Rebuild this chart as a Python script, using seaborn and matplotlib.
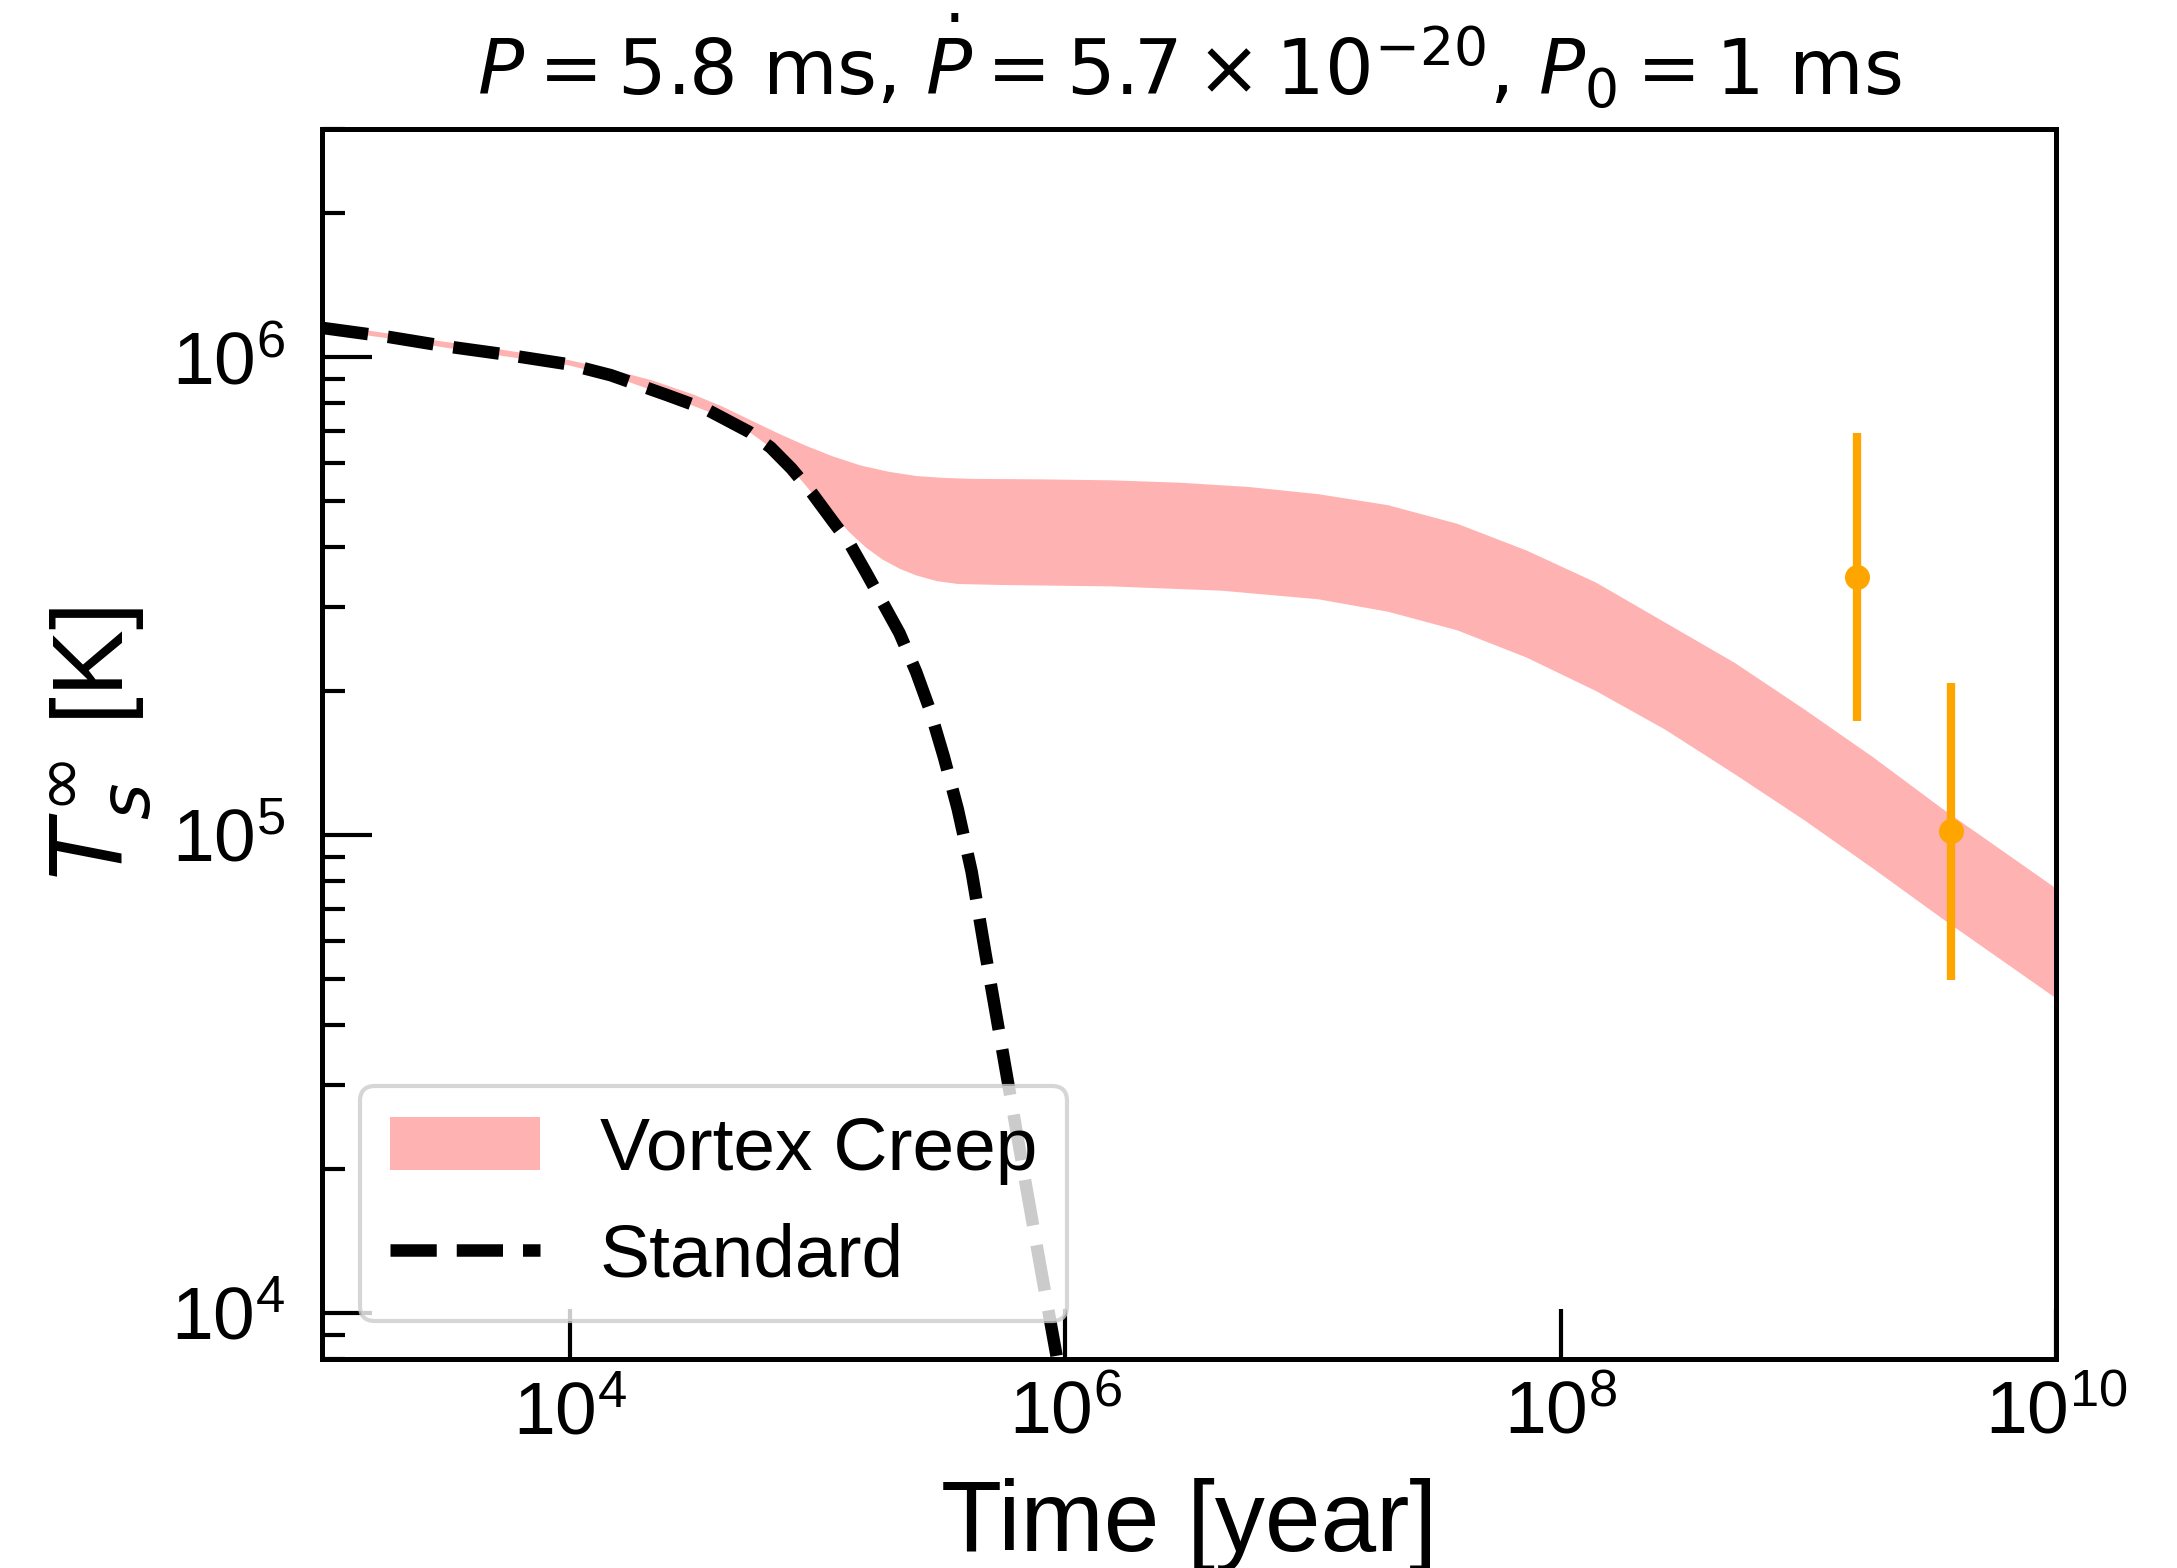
import matplotlib
matplotlib.use('Agg')
import matplotlib.pyplot as plt
import matplotlib.ticker as mticker
import numpy as np
import pandas as pd
import seaborn as sns

# values, given as log10(time / yr) and log10(T / K)

# standard cooling curve (dashed)
std_log_time = [3.000, 3.269, 3.493, 3.717, 3.992, 4.165, 4.389, 4.557, 4.725,
                4.810, 4.894, 4.978, 5.062, 5.129, 5.196, 5.263, 5.331, 5.398,
                5.454, 5.510, 5.566, 5.622, 5.678, 5.734, 5.790, 5.846, 5.902,
                5.969, 6.025]
std_log_temp = [6.061, 6.042, 6.023, 6.007, 5.985, 5.962, 5.921, 5.889, 5.843,
                5.811, 5.767, 5.715, 5.656, 5.610, 5.549, 5.486, 5.422, 5.341,
                5.261, 5.163, 5.054, 4.923, 4.751, 4.585, 4.419, 4.253, 4.090,
                3.898, 3.735]

# vortex creep band, upper edge
creep_log_time_upper = [3.000, 3.269, 3.493, 3.717, 3.992, 4.165, 4.333, 4.501,
                        4.613, 4.725, 4.838, 4.950, 5.062, 5.174, 5.286, 5.398,
                        5.510, 5.622, 5.902, 6.182, 6.462, 6.742, 7.022, 7.303,
                        7.583, 7.863, 8.143, 8.423, 8.703, 8.983, 9.263, 9.543,
                        9.824, 10.0]
creep_log_temp_upper = [6.070, 6.049, 6.032, 6.016, 5.994, 5.974, 5.951, 5.921,
                        5.897, 5.869, 5.841, 5.815, 5.792, 5.773, 5.760, 5.751,
                        5.747, 5.745, 5.744, 5.742, 5.737, 5.728, 5.713, 5.690,
                        5.651, 5.595, 5.528, 5.444, 5.360, 5.263, 5.162, 5.054,
                        4.952, 4.888]

# vortex creep band, lower edge
creep_log_time_lower = [3.000, 3.269, 3.493, 3.717, 3.992, 4.165, 4.389, 4.557,
                        4.725, 4.810, 4.894, 4.978, 5.062, 5.129, 5.196, 5.263,
                        5.331, 5.398, 5.482, 5.566, 5.734, 6.182, 6.630, 7.022,
                        7.303, 7.583, 7.863, 8.143, 8.423, 8.703, 8.983, 9.263,
                        9.543, 9.824, 10.0]
creep_log_temp_lower = [6.058, 6.039, 6.020, 6.003, 5.983, 5.961, 5.920, 5.886,
                        5.843, 5.811, 5.767, 5.715, 5.671, 5.633, 5.601, 5.576,
                        5.557, 5.543, 5.531, 5.525, 5.523, 5.520, 5.511, 5.493,
                        5.467, 5.428, 5.371, 5.301, 5.220, 5.127, 5.031, 4.929,
                        4.824, 4.722, 4.658]

# observed pulsars
obs_time = [1.58e9, 3.78e9]
obs_temp = [3.46e5, 1.02e5]
obs_temp_low = [1.73e5, 4.97e4]
obs_temp_high = [6.92e5, 2.08e5]

X_TICKS = [1e4, 1e6, 1e8, 1e10]

TITLE = (r'$P = 5.8\ \mathrm{ms}{,}\ \dot{P} = 5.7 \times 10^{-20}{,}\ '
         r'P_0 = 1\ \mathrm{ms}$')


def main():
    sns.set_theme(style='ticks')
    plt.rcParams['font.family'] = ['Liberation Sans', 'DejaVu Sans']
    plt.rcParams['mathtext.fontset'] = 'dejavusans'
    plt.rcParams['axes.linewidth'] = 1.2
    for key in ['axes.edgecolor', 'text.color', 'axes.labelcolor',
                'xtick.color', 'ytick.color']:
        plt.rcParams[key] = 'black'

    fig = plt.figure(figsize=(2177 / 300, 1568 / 300), dpi=300)
    ax = fig.add_axes([0.148, 0.1333, 0.7964, 0.7844])
    ax.set_xscale('log')
    ax.set_yscale('log')

    t_up = 10 ** np.array(creep_log_time_upper)
    T_up = 10 ** np.array(creep_log_temp_upper)
    t_lo = 10 ** np.array(creep_log_time_lower)
    T_lo = 10 ** np.array(creep_log_temp_lower)
    band = ax.fill(np.concatenate([t_up, t_lo[::-1]]),
                   np.concatenate([T_up, T_lo[::-1]]),
                   color='red', alpha=0.3, lw=0, label='Vortex Creep')[0]

    df = pd.DataFrame({'time': 10 ** np.array(std_log_time),
                       'temp': 10 ** np.array(std_log_temp)})
    sns.lineplot(data=df, x='time', y='temp', color='black', lw=3,
                 linestyle='--', ax=ax, label='Standard')
    std_line = ax.get_lines()[-1]

    yerr = [np.array(obs_temp) - np.array(obs_temp_low),
            np.array(obs_temp_high) - np.array(obs_temp)]
    ax.errorbar(obs_time, obs_temp, yerr=yerr, fmt='o', color='orange',
                ms=5, elinewidth=2, capsize=0, zorder=4)

    ax.set_xlim(1e3, 1e10)
    ax.set_ylim(8e3, 3e6)
    ax.xaxis.set_major_locator(mticker.FixedLocator(X_TICKS))
    ax.xaxis.set_minor_locator(mticker.NullLocator())
    ax.yaxis.set_minor_formatter(mticker.NullFormatter())

    ax.tick_params(which='both', direction='in', top=False, right=False,
                   colors='black', labelsize=18)
    ax.tick_params(which='major', length=12, width=1.0)
    ax.tick_params(which='minor', length=5.5, width=1.0)
    ax.tick_params(axis='y', pad=9)
    ax.tick_params(axis='x', pad=5)

    ax.set_xlabel('Time [year]', fontsize=24, labelpad=7)
    ax.set_ylabel(r'$T_s^\infty$ [K]', fontsize=24)
    ax.set_title(TITLE, fontsize=18.4, pad=8)

    ax.legend(handles=[band, std_line], labels=['Vortex Creep', 'Standard'],
              loc='lower left', fontsize=18, labelspacing=0.5,
              frameon=True, framealpha=0.8, edgecolor='0.8', fancybox=True)

    fig.savefig('out.png', dpi=300)


if __name__ == '__main__':
    main()
